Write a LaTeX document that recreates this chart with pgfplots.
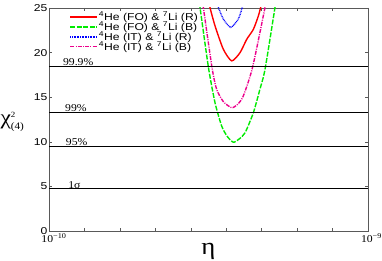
\documentclass[border=0pt]{standalone}
\usepackage{fontspec}
\usepackage{pgfplots}
\pgfplotsset{compat=1.18}
\newfontfamily\lsans[FakeStretch=1.22]{Liberation Sans}
\newfontfamily\lserif[FakeStretch=1.12]{Liberation Serif}
\definecolor{cgreen}{RGB}{0,235,0}
\begin{document}
\begin{tikzpicture}
\begin{axis}[
  scale only axis, width=319bp, height=223bp,
  xmin=1, xmax=10, ymin=0, ymax=25,
  xtick={1,10}, xticklabels={\hspace*{3bp}10\textsuperscript{−10},10\textsuperscript{−9}},
  minor xtick={2,3,4,5,6,7,8,9},
  ytick={0,5,10,15,20,25},
  tick align=inside,
  major tick length=3bp, minor tick length=3bp,
  axis line style={black!65, line width=0.6pt},
  every tick/.style={black!65, line width=0.5pt},
  /pgf/number format/assume math mode=true,
  yticklabel style={font=\lsans\fontsize{10}{10}\selectfont, inner sep=1.5pt},
  xticklabel style={font=\lserif\fontsize{10.5}{10.5}\selectfont, xshift=3.5bp, yshift=-1.5bp, inner sep=0.5pt},
  xlabel={\lserif\fontsize{24}{24}\selectfont η},
  xlabel style={yshift=2.5bp},
  ylabel={$\mbox{\lserif\fontsize{21}{21}\selectfont χ}^{\mbox{\lserif\fontsize{8}{8}\selectfont 2}}_{\mbox{\lserif\fontsize{10}{10}\selectfont (4)}}$},
  ylabel style={rotate=-90, at={(axis description cs:-0.066,0.49)}, anchor=east},
  legend style={draw=none, fill=none, at={(0.055,0.995)}, anchor=north west,
    font=\lsans\fontsize{10}{10}\selectfont, row sep=-1.6pt,
    nodes={inner sep=0.8pt}},
  legend cell align=left,
  legend image code/.code={\draw[#1] (0bp,0bp) -- (27bp,0bp);},
]
\addplot[red, line width=1.4pt, smooth, tension=0.4] coordinates {
(5.50,26) (5.54,25.08) (5.684,23.0) (5.918,20.38) (6.155,19.07) (6.39,20.0) (6.58,21.5) (6.765,22.6) (6.906,24.1) (6.973,25.08) (7.0,25.6)};
\addlegendentry{\textsuperscript{4}He (FO) \& \textsuperscript{7}Li (R)}
\addplot[cgreen, line width=1.4pt, dash pattern=on 5bp off 1.5bp, smooth, tension=0.4] coordinates {
(5.19,27) (5.26,25.08) (5.50,18.3) (5.684,14.38) (5.873,11.75) (6.03,10.6) (6.20,9.95) (6.36,10.3) (6.53,11.0) (6.765,13.25) (6.95,15.88) (7.095,18.13) (7.377,25.08) (7.45,26.9)};
\addlegendentry{\textsuperscript{4}He (FO) \& \textsuperscript{7}Li (B)}
\addplot[blue, line width=1.4pt, dash pattern=on 0.8bp off 0.8bp, smooth, tension=0.4] coordinates {
(5.74,25.6) (5.777,25.08) (5.918,23.76) (6.127,22.83) (6.34,23.76) (6.454,25.08) (6.49,25.6)};
\addlegendentry{\textsuperscript{4}He (IT) \& \textsuperscript{7}Li (R)}
\addplot[magenta, line width=1.4pt, dash pattern=on 4bp off 1.2bp on 1bp off 1.2bp, smooth, tension=0.4] coordinates {
(5.29,27) (5.354,25.08) (5.60,18.3) (5.73,15.88) (5.92,14.5) (6.155,13.82) (6.32,14.2) (6.48,15.12) (6.74,18.3) (7.095,25.08) (7.15,26.5)};
\addlegendentry{\textsuperscript{4}He (IT) \& \textsuperscript{7}Li (B)}
\addplot[black, line width=0.9pt, forget plot] coordinates {(1,18.47) (10,18.47)};
\addplot[black, line width=0.9pt, forget plot] coordinates {(1,13.28) (10,13.28)};
\addplot[black, line width=0.9pt, forget plot] coordinates {(1,9.49) (10,9.49)};
\addplot[black, line width=0.9pt, forget plot] coordinates {(1,4.72) (10,4.72)};
\node[anchor=south west, inner sep=0.4pt, font=\lserif\fontsize{10.5}{10.5}\selectfont] at (axis cs:1.38,18.47) {99.9\%};
\node[anchor=south west, inner sep=0.4pt, font=\lserif\fontsize{10.5}{10.5}\selectfont] at (axis cs:1.44,13.28) {99\%};
\node[anchor=south west, inner sep=0.4pt, font=\lserif\fontsize{10.5}{10.5}\selectfont] at (axis cs:1.46,9.49) {95\%};
\node[anchor=south west, inner sep=0.4pt, font=\lserif\fontsize{10.5}{10.5}\selectfont] at (axis cs:1.53,4.72) {1σ};
\end{axis}
\pgfresetboundingbox
\path[use as bounding box] ([shift={(-49bp,-29bp)}]current axis.south west) rectangle ([shift={(14bp,8bp)}]current axis.north east);
\end{tikzpicture}
\end{document}
